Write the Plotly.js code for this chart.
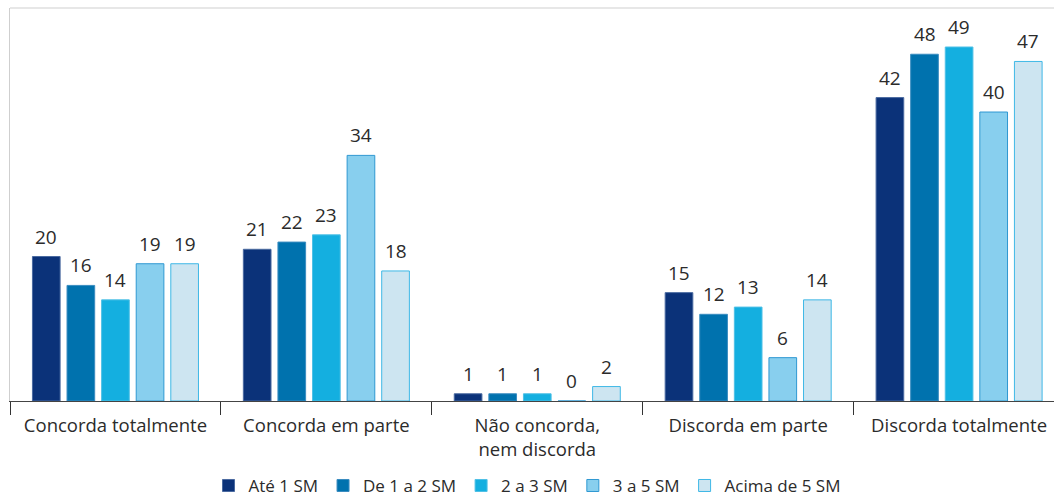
<!DOCTYPE html>
<html>
<head>
<meta charset="utf-8">
<script src="https://cdn.plot.ly/plotly-3.0.1.min.js"></script>
<style>html,body{margin:0;padding:0;background:#fff;}#chart{width:1054px;height:502px;}</style>
</head>
<body>
<div id="chart"></div>
<script>
const categories = ["Concorda totalmente", "Concorda em parte", "Não concorda,<br>nem discorda", "Discorda em parte", "Discorda totalmente"];
const seriesNames = ["Até 1 SM", "De 1 a 2 SM", "2 a 3 SM", "3 a 5 SM", "Acima de 5 SM"];
const ate1 = [20, 21, 1, 15, 42];
const de1a2 = [16, 22, 1, 12, 48];
const de2a3 = [14, 23, 1, 13, 49];
const de3a5 = [19, 34, 0, 6, 40];
const acima5 = [19, 18, 2, 14, 47];
const seriesValues = [ate1, de1a2, de2a3, de3a5, acima5];
const fillColors = ["#0b3279", "#0072ae", "#14afe0", "#88cfee", "#cde5f1"];
const lineColors = ["#4a6aa0", "#3a8cc0", "#4fc0e6", "#2f98d2", "#3fb8e6"];

const FONT = "Open Sans, Noto Sans, sans-serif";
const bargap = 0.18, bargroupgap = 0.2;
const nS = seriesNames.length;
const slot = (1 - bargap) / nS;

const traces = seriesNames.map((name, i) => ({
  type: "bar",
  name: name,
  x: categories,
  y: seriesValues[i],
  marker: {color: fillColors[i], line: {color: lineColors[i], width: 1}},
  hoverinfo: "skip"
}));

const annotations = [];
seriesValues.forEach((vals, i) => {
  vals.forEach((v, c) => {
    annotations.push({
      xref: "x", yref: "y",
      x: c - (1 - bargap) / 2 + slot * (i + 0.5),
      y: v,
      text: String(v),
      showarrow: false,
      xanchor: "center", yanchor: "bottom",
      yshift: 5,
      font: {family: FONT, size: 19, color: "#2b2b2b"}
    });
  });
});

const layout = {
  width: 1054, height: 502,
  margin: {l: 10, r: 0, t: 8, b: 101},
  paper_bgcolor: "#fff", plot_bgcolor: "#fff",
  barmode: "group",
  bargap: bargap,
  bargroupgap: bargroupgap,
  showlegend: true,
  legend: {orientation: "h", xref: "container", yref: "container",
    x: 0.5, xanchor: "center", y: 0.032, yanchor: "middle",
    font: {family: FONT, size: 17, color: "#2b2b2b"},
    itemwidth: 30, tracegroupgap: 0},
  font: {family: FONT, color: "#2b2b2b"},
  xaxis: {
    type: "category",
    range: [-0.5, 4.45],
    automargin: false,
    tickson: "boundaries",
    ticks: "outside", ticklen: 13, tickwidth: 1, tickcolor: "#333",
    ticklabelstandoff: 8,
    showline: true, linecolor: "#444", linewidth: 1,
    showgrid: false, zeroline: false,
    tickfont: {family: FONT, size: 18.5, color: "#2b2b2b"},
    fixedrange: true
  },
  yaxis: {
    range: [0, 54.4],
    automargin: false,
    showticklabels: false, showgrid: false, zeroline: false,
    showline: true, linecolor: "#cfcfcf", linewidth: 1,
    ticks: "", fixedrange: true
  },
  annotations: annotations,
  shapes: [
    {type: "line", xref: "paper", yref: "paper", x0: 0, x1: 1, y0: 1, y1: 1,
     line: {color: "#cfcfcf", width: 1}}
  ]
};

Plotly.newPlot("chart", traces, layout, {displayModeBar: false, staticPlot: true});
</script>
</body>
</html>
